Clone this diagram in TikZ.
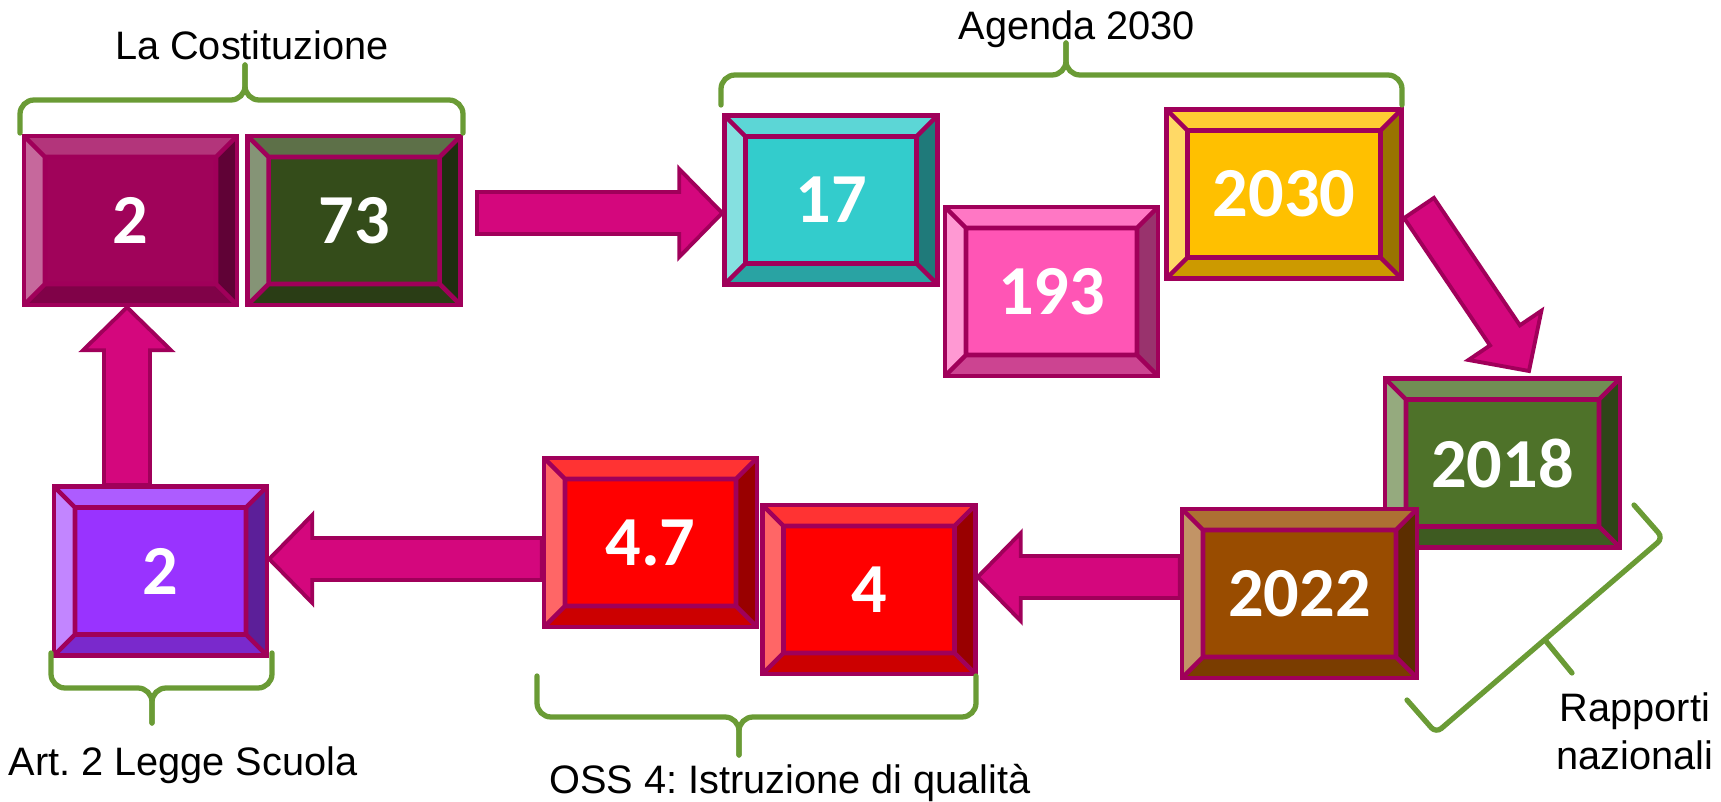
\documentclass[tikz,border=0pt]{standalone}
\usepackage{fontspec}
\setmainfont{Liberation Sans}
\newfontfamily\numfont{Carlito}
\usetikzlibrary{calc,positioning}
\frenchspacing

\definecolor{edge}{HTML}{A0005A}
\definecolor{arrowfill}{HTML}{D4077D}
\definecolor{bracegreen}{HTML}{6A9B35}
\definecolor{cMagenta}{HTML}{A0035A}
\definecolor{cDarkGreen}{HTML}{344C1A}
\definecolor{cTeal}{HTML}{33CCCC}
\definecolor{cPink}{HTML}{FF55B5}
\definecolor{cGold}{HTML}{FFC000}
\definecolor{cGreen}{HTML}{4E7229}
\definecolor{cBrown}{HTML}{994C00}
\definecolor{cRed}{HTML}{FF0000}
\definecolor{cPurple}{HTML}{9933FF}

% block arrow: [shaft half width]{tail}{tip}
\newcommand{\blockarrow}[3][2.1mm]{%
  \coordinate (ah) at ($(#3)!4.3mm!(#2)$);
  \draw[fatarrow] ($(#2)!#1!90:(#3)$) -- ($(ah)!#1!90:(#3)$) -- ($(ah)!4.4mm!90:(#3)$) -- (#3)
    -- ($(ah)!4.4mm!-90:(#3)$) -- ($(ah)!#1!-90:(#3)$) -- ($(#2)!#1!-90:(#3)$) -- cycle;}

\begin{document}
\begin{tikzpicture}[x=0.1mm, y=-0.1mm,
  bevbox/.style={rectangle, draw=edge, line width=1.3pt, fill=#1, text=white, inner sep=0pt,
    font=\numfont\bfseries\fontsize{20}{24}\selectfont, minimum width=21.3mm, minimum height=16.9mm,
    path picture={
      \path (path picture bounding box.north west) coordinate (o1)
            (path picture bounding box.north east) coordinate (o2)
            (path picture bounding box.south east) coordinate (o3)
            (path picture bounding box.south west) coordinate (o4);
      \path ([shift={(2.1mm,-2.1mm)}]o1) coordinate (i1) ([shift={(-2.1mm,-2.1mm)}]o2) coordinate (i2)
            ([shift={(-2.1mm,2.1mm)}]o3) coordinate (i3) ([shift={(2.1mm,2.1mm)}]o4) coordinate (i4);
      \fill[#1!80!white] (o1) -- (o2) -- (i2) -- (i1) -- cycle;
      \fill[#1!60!black] (o2) -- (o3) -- (i3) -- (i2) -- cycle;
      \fill[#1!80!black] (o3) -- (o4) -- (i4) -- (i3) -- cycle;
      \fill[#1!60!white] (o4) -- (o1) -- (i1) -- (i4) -- cycle;
      \draw[edge, line width=1.3pt] (i1) rectangle (i3) (o1) -- (i1) (o2) -- (i2) (o3) -- (i3) (o4) -- (i4);
    }},
  widebox/.style={bevbox=#1, minimum width=23.5mm},
  fatarrow/.style={draw=edge, fill=arrowfill, line width=1.1pt, line join=miter},
  brace/.style={draw=bracegreen, line width=1.5pt, line cap=round, rounded corners=4pt},
  lbl/.style={font=\fontsize{11.3}{13.7}\selectfont, inner sep=0pt}]
  \useasboundingbox (0,0) rectangle (1721,802);

  % boxes
  \node[bevbox=cMagenta] (art2) at (130.5,220.5) {2};
  \node[bevbox=cDarkGreen, right=0.6mm of art2] (art73) {73};
  \node[bevbox=cTeal] (sdg17) at (831,200) {17};
  \node[bevbox=cPink] (sdg193) at (1051.5,291.5) {193};
  \node[widebox=cGold] (sdg2030) at (1284,194) {2030};
  \node[widebox=cGreen] (rep2018) at (1502.5,463) {2018};
  \node[widebox=cBrown] (rep2022) at (1299.5,593.5) {2022};
  \node[bevbox=cRed] (oss47) at (650.5,542.5) {4.7};
  \node[bevbox=cRed] (oss4) at (869,589.5) {4};
  \node[bevbox=cPurple] (scuola) at (160.5,571) {2};

  % arrows
  \coordinate (r1) at (477,213);
  \coordinate (r2) at (sdg17.west |- r1);
  \blockarrow{r1}{r2}
  \coordinate (d1) at (1419,208);
  \coordinate (d2) at (1529,371);
  \blockarrow[1.8mm]{d1}{d2}
  \coordinate (l1) at (rep2022.west |- 0,577);
  \coordinate (l2) at (oss4.east |- l1);
  \blockarrow{l1}{l2}
  \coordinate (m1) at (oss47.west |- 0,559);
  \coordinate (m2) at (scuola.east |- m1);
  \blockarrow{m1}{m2}
  \coordinate (u1) at (127,485);
  \coordinate (u2) at (art2.south -| u1);
  \blockarrow[2.3mm]{u1}{u2}

  % braces
  \draw[brace] (20,133) |- (245,100) -- (245,65);
  \draw[brace] (463,133) |- (245,100) -- (245,65);
  \draw[brace] (721,105) |- (1066,75) -- (1066,43);
  \draw[brace] (1402,105) |- (1066,75) -- (1066,43);
  \draw[brace] (537,676) |- (739,717) -- (739,755);
  \draw[brace] (976,676) |- (739,717) -- (739,755);
  \draw[brace] (51,653) |- (152,688) -- (152,723);
  \draw[brace] (272,653) |- (152,688) -- (152,723);
  \draw[brace, rounded corners=2pt] (1634,505) -- (1663,538) -- (1436,733) -- (1407,700);
  \draw[brace] (1545,640) -- (1572,673);

  % labels
  \node[lbl, anchor=base] (tcost) at (252,60) {La Costituzione};
  \node[lbl, anchor=base] (tagenda) at (1077,40) {Agenda 2030};
  \node[lbl, anchor=base] (tart) at (183,775) {Art. 2 Legge Scuola};
  \node[lbl, anchor=base] (toss) at (790,793) {OSS 4: Istruzione di qualità};
  \node[lbl, anchor=north, align=center] (trap) at (1635,692) {Rapporti\\nazionali};
\end{tikzpicture}
\end{document}
